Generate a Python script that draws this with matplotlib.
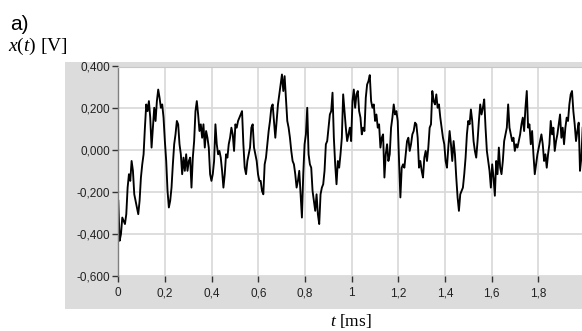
import numpy as np
import matplotlib
matplotlib.use("Agg")
import matplotlib.pyplot as plt
from matplotlib.patches import Rectangle
from matplotlib.ticker import FuncFormatter, MultipleLocator

plt.rcParams["mathtext.fontset"] = "custom"
plt.rcParams["mathtext.it"] = "Liberation Serif:italic"
plt.rcParams["mathtext.rm"] = "Liberation Serif"

# measured signal x(t) in volts, sampled evenly over 0 ... 1.99 ms
volts_a = [
    -0.241, -0.432, -0.400, -0.321, -0.337, -0.352, -0.305, -0.178, -0.114, -0.146,
    -0.051, -0.098, -0.210, -0.241, -0.273, -0.305, -0.241, -0.130, -0.067, -0.019,
    0.108, 0.219, 0.187, 0.235, 0.156, 0.013, 0.108, 0.203, 0.140, 0.235,
    0.290, 0.251, 0.203, 0.219, 0.156, 0.044, -0.051, -0.194, -0.273, -0.241,
    -0.178, -0.067, 0.029, 0.076, 0.140, 0.124, 0.029, -0.019, -0.114, -0.035,
    -0.098, -0.019, -0.098, -0.051, -0.035, -0.178, -0.035, 0.044, 0.187, 0.235,
    0.171, 0.092, 0.124, 0.060, 0.124, 0.013, 0.092, 0.060, 0.013, -0.114,
    -0.146, -0.114, -0.051, 0.124, 0.029, -0.019, -0.003, -0.035, -0.098, -0.178,
    -0.114, -0.019, -0.035, 0.029, 0.060, 0.108, 0.076, -0.003, 0.124, 0.108,
    0.140, 0.156, 0.171, 0.187, 0.029, -0.083, -0.114, -0.051, -0.019, 0.013,
    0.108, 0.124, 0.013, -0.019, -0.051, -0.114, -0.146, -0.146, -0.194, -0.210,
    -0.067, -0.035, 0.029, 0.092, 0.140, 0.203, 0.219, 0.140, 0.060,
]
volts_b = [
    0.140, 0.219, 0.267, 0.314, 0.362, 0.283, 0.354, 0.251, 0.140, 0.108,
    0.060, -0.003, -0.051, -0.067, -0.114, -0.178, -0.146, -0.098, -0.210, -0.321,
    -0.114, 0.029, 0.076, 0.203, -0.019, -0.067, -0.083, -0.194, -0.241, -0.289,
    -0.210, -0.305, -0.352, -0.210, -0.178, -0.162, -0.098, 0.029, 0.044, 0.108,
    0.171, 0.187, 0.275, 0.060, -0.067, -0.162, -0.051, -0.083, -0.019, 0.060,
    0.267, 0.187, 0.108, 0.044, 0.076, 0.108, 0.044, 0.235, 0.290, 0.203,
    0.267, 0.283, 0.187, 0.156, 0.076, 0.108, 0.092, 0.251, 0.314, 0.330,
    0.359, 0.235, 0.203, 0.219, 0.140, 0.171, 0.108, 0.124, 0.013, 0.060,
    0.076, -0.130, -0.019, 0.029, -0.051, -0.019, 0.108, 0.156, 0.219, 0.171,
    0.187, 0.140, -0.051, -0.225, -0.083, -0.067, -0.083, -0.019, 0.044, 0.060,
    -0.003, 0.029, 0.076, 0.092, 0.132, 0.124, 0.060, -0.083, -0.051, -0.098,
    -0.130, -0.035, -0.003,
]
volts_c = [
    -0.051, 0.013, 0.108, 0.124, 0.283, 0.235, 0.219, 0.267, 0.203, 0.219,
    0.156, 0.108, 0.060, 0.029, -0.051, -0.083, 0.013, 0.092, 0.029, -0.051,
    0.044, -0.019, -0.130, -0.225, -0.289, -0.210, -0.194, -0.178, -0.114, -0.035,
    0.076, 0.140, 0.124, 0.195, 0.140, 0.044, -0.003, -0.035, 0.044, 0.140,
    0.219, 0.171, 0.203, 0.243, 0.108, -0.003, -0.051, -0.098, -0.178, -0.067,
    -0.130, -0.217, -0.051, -0.114, 0.013, -0.083, -0.114, -0.051, 0.044, 0.076,
    0.108, 0.219, 0.108, 0.076, 0.044, 0.060, -0.003, 0.029, 0.013, 0.044,
    0.076, 0.124, 0.156, 0.092, 0.203, 0.283, 0.108, 0.124, 0.029, 0.092,
    -0.019, -0.114, -0.067, -0.019, 0.013, 0.044, 0.076, 0.029, -0.051, -0.019,
    -0.083, -0.019, 0.029, 0.140, 0.076, 0.108, -0.003, 0.044, 0.076, 0.124,
    0.171, 0.060, 0.108, 0.029, 0.108, 0.156, 0.140, 0.219, 0.267, 0.283,
    0.187, 0.124, 0.044, 0.092, 0.132, -0.098, -0.035, 0.108,
]
t_start, t_end = 0.0, 1.99

volts = np.array(volts_a + volts_b + volts_c)
t = np.linspace(t_start, t_end, len(volts))

W, H = 582, 331
fig = plt.figure(figsize=(W / 100, H / 100), dpi=100)

# grey instrument panel behind the graph
fig.patches.append(Rectangle((65 / W, 1 - 309 / H), (W - 65) / W, (309 - 62) / H,
                             transform=fig.transFigure, facecolor="#dcdcdc",
                             edgecolor="none", zorder=-5))

ax = fig.add_axes([118.3 / W, 1 - 276 / H, 466.7 / W, 209.5 / H])
ax.set_zorder(1)
ax.set_facecolor("white")
ax.plot(t, volts, color="black", lw=1.35)

ax.set_xlim(0, 2)
ax.set_ylim(-0.6, 0.4)
ax.xaxis.set_major_locator(MultipleLocator(0.2))
ax.yaxis.set_major_locator(MultipleLocator(0.2))
ax.xaxis.set_major_formatter(FuncFormatter(lambda v, p: f"{v:.1f}".rstrip("0").rstrip(".").replace(".", ",")))
ax.yaxis.set_major_formatter(FuncFormatter(lambda v, p: f"{v:.3f}".replace(".", ",")))
ax.grid(True, color="#d8d8d8", lw=1.2)
ax.set_axisbelow(True)

for side in ["right", "bottom"]:
    ax.spines[side].set_visible(False)
ax.spines["top"].set_color("#c8c8c8")
ax.spines["left"].set_color("#808080")
ax.spines["left"].set_linewidth(1.0)

ax.tick_params(axis="both", direction="out", length=4, width=1, color="#333333",
               labelsize=8.5, labelcolor="#222222")
ax.tick_params(axis="x", pad=4)
ax.tick_params(axis="y", pad=2)
for lbl in ax.get_xticklabels() + ax.get_yticklabels():
    lbl.set_fontfamily("Liberation Sans")

fig.text(10 / W, 1 - 30 / H, "a)", fontsize=15, family="Liberation Sans", va="baseline")
fig.text(8 / W, 1 - 51 / H, r"$x$($t$) [V]", fontsize=14, family="Liberation Serif",
         va="baseline")
fig.text(351 / W, 1 - 326 / H, r"$t$ [ms]", fontsize=12.5, family="Liberation Serif",
         ha="center", va="baseline")

fig.savefig("out.png", dpi=100)
